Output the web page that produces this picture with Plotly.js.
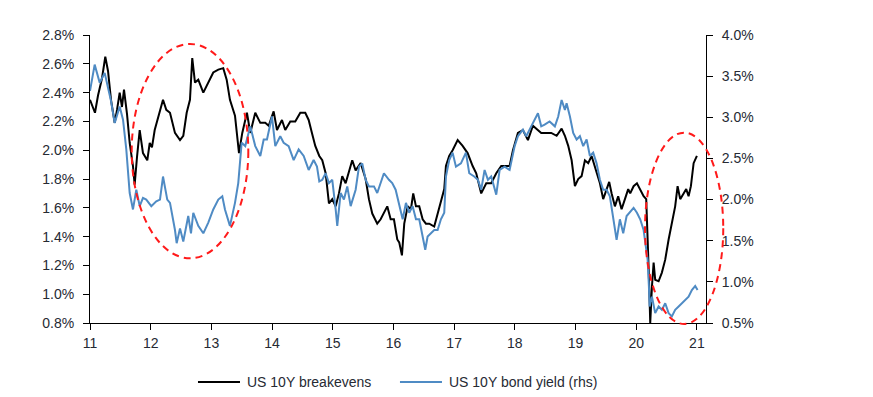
<!DOCTYPE html>
<html>
<head>
<meta charset="utf-8">
<script src="https://cdn.plot.ly/plotly-3.0.1.min.js"></script>
<style>
  html, body { margin: 0; padding: 0; background: #fff; }
  #chart { width: 873px; height: 397px; }
</style>
</head>
<body>
<div id="chart"></div>
<script>
// ---- Data (decimal year, e.g. 11.5 = mid-2011) ----
const breakevenYears = [
  11.000, 11.049, 11.082, 11.132, 11.198, 11.252, 11.297, 11.346, 11.407, 11.445,
  11.489, 11.527, 11.560, 11.610, 11.654, 11.708, 11.736, 11.774, 11.819, 11.873,
  11.944, 11.984, 12.021, 12.066, 12.148, 12.203, 12.257, 12.318, 12.400, 12.483,
  12.537, 12.593, 12.647, 12.685, 12.730, 12.784, 12.867, 12.949, 13.031, 13.114,
  13.196, 13.252, 13.306, 13.389, 13.455, 13.509, 13.554, 13.586, 13.641, 13.723,
  13.806, 13.888, 13.944, 14.026, 14.081, 14.163, 14.217, 14.300, 14.382, 14.465,
  14.547, 14.603, 14.657, 14.712, 14.778, 14.827, 14.883, 14.937, 14.992, 15.048,
  15.102, 15.156, 15.212, 15.267, 15.321, 15.377, 15.460, 15.542, 15.596, 15.651,
  15.733, 15.789, 15.843, 15.898, 15.954, 16.008, 16.063, 16.095, 16.140, 16.178,
  16.234, 16.288, 16.326, 16.371, 16.425, 16.481, 16.535, 16.590, 16.672, 16.755,
  16.837, 16.865, 16.919, 16.975, 17.058, 17.140, 17.222, 17.305, 17.364, 17.446,
  17.529, 17.611, 17.694, 17.776, 17.858, 17.914, 17.969, 18.051, 18.133, 18.216,
  18.298, 18.381, 18.435, 18.517, 18.600, 18.689, 18.771, 18.825, 18.880, 18.936,
  18.990, 19.044, 19.100, 19.155, 19.209, 19.265, 19.320, 19.402, 19.456, 19.512,
  19.555, 19.595, 19.649, 19.703, 19.759, 19.814, 19.868, 19.901, 19.957, 20.012,
  20.066, 20.122, 20.165, 20.188, 20.204, 20.221, 20.231, 20.259, 20.287, 20.313,
  20.369, 20.423, 20.478, 20.534, 20.588, 20.642, 20.682, 20.725, 20.781, 20.824,
  20.863, 20.901, 20.946, 21.000
];
const breakevens = [
  2.35, 2.30, 2.26, 2.38, 2.50, 2.65, 2.55, 2.35, 2.19, 2.28,
  2.40, 2.30, 2.42, 2.25, 2.05, 1.89, 1.76, 1.95, 2.14, 1.98,
  1.93, 2.05, 2.02, 2.14, 2.27, 2.35, 2.28, 2.26, 2.12, 2.07,
  2.10, 2.26, 2.35, 2.64, 2.47, 2.49, 2.40, 2.47, 2.54, 2.56,
  2.57, 2.49, 2.35, 2.24, 1.98, 2.12, 2.21, 2.26, 2.12, 2.26,
  2.19, 2.19, 2.17, 2.27, 2.14, 2.21, 2.14, 2.20, 2.20, 2.26,
  2.26, 2.21, 2.12, 2.03, 1.96, 1.93, 1.84, 1.63, 1.66, 1.61,
  1.70, 1.82, 1.77, 1.86, 1.93, 1.86, 1.91, 1.80, 1.66, 1.56,
  1.49, 1.52, 1.56, 1.61, 1.52, 1.52, 1.38, 1.36, 1.27, 1.49,
  1.61, 1.59, 1.70, 1.61, 1.61, 1.52, 1.49, 1.49, 1.47, 1.61,
  1.73, 1.89, 1.96, 2.00, 2.07, 2.03, 1.98, 1.89, 1.84, 1.70,
  1.77, 1.77, 1.84, 1.89, 1.89, 1.89, 2.00, 2.12, 2.14, 2.07,
  2.17, 2.14, 2.12, 2.12, 2.12, 2.10, 2.15, 2.10, 2.03, 1.93,
  1.75, 1.80, 1.82, 1.93, 1.91, 1.96, 1.89, 1.77, 1.66, 1.73,
  1.78, 1.70, 1.61, 1.68, 1.59, 1.66, 1.73, 1.70, 1.75, 1.77,
  1.73, 1.68, 1.66, 1.43, 1.19, 0.96, 0.80, 1.05, 1.22, 1.10,
  1.09, 1.15, 1.24, 1.38, 1.49, 1.61, 1.75, 1.66, 1.70, 1.73,
  1.68, 1.75, 1.91, 1.96
];

const yieldYears = [
  11.000, 11.077, 11.160, 11.242, 11.297, 11.346, 11.407, 11.489, 11.544, 11.598,
  11.654, 11.708, 11.763, 11.819, 11.873, 11.927, 12.010, 12.092, 12.153, 12.203,
  12.273, 12.318, 12.400, 12.428, 12.483, 12.537, 12.619, 12.664, 12.702, 12.784,
  12.867, 12.949, 13.031, 13.114, 13.180, 13.224, 13.306, 13.389, 13.443, 13.499,
  13.558, 13.641, 13.723, 13.806, 13.862, 13.916, 13.998, 14.053, 14.135, 14.191,
  14.273, 14.356, 14.438, 14.521, 14.603, 14.685, 14.740, 14.778, 14.827, 14.883,
  14.937, 14.992, 15.048, 15.074, 15.130, 15.184, 15.239, 15.295, 15.377, 15.432,
  15.486, 15.542, 15.596, 15.679, 15.733, 15.789, 15.843, 15.926, 15.980, 16.036,
  16.095, 16.152, 16.206, 16.260, 16.316, 16.371, 16.425, 16.481, 16.524, 16.563,
  16.618, 16.672, 16.728, 16.782, 16.837, 16.865, 16.919, 16.975, 17.030, 17.112,
  17.194, 17.249, 17.331, 17.392, 17.446, 17.502, 17.557, 17.611, 17.694, 17.750,
  17.832, 17.914, 17.997, 18.051, 18.133, 18.188, 18.270, 18.326, 18.381, 18.435,
  18.491, 18.573, 18.660, 18.715, 18.771, 18.825, 18.853, 18.908, 18.962, 19.018,
  19.072, 19.127, 19.183, 19.237, 19.291, 19.347, 19.402, 19.456, 19.512, 19.566,
  19.621, 19.677, 19.731, 19.786, 19.842, 19.901, 19.957, 20.012, 20.066, 20.122,
  20.148, 20.188, 20.209, 20.221, 20.259, 20.313, 20.369, 20.423, 20.478, 20.534,
  20.588, 20.642, 20.699, 20.753, 20.807, 20.863, 20.917, 20.972, 21.011
];
const bondYield = [
  3.32, 3.64, 3.42, 3.54, 3.36, 3.20, 2.93, 3.13, 2.97, 2.61,
  2.08, 1.88, 2.12, 1.92, 2.02, 2.00, 1.92, 1.98, 2.00, 2.28,
  2.00, 1.96, 1.63, 1.47, 1.65, 1.49, 1.80, 1.59, 1.84, 1.68,
  1.59, 1.72, 1.88, 2.00, 2.04, 1.88, 1.68, 1.96, 2.20, 2.69,
  2.65, 2.89, 2.65, 2.53, 2.73, 2.73, 3.01, 2.65, 2.77, 2.69,
  2.65, 2.48, 2.61, 2.53, 2.36, 2.48, 2.40, 2.22, 2.24, 2.32,
  2.20, 2.24, 1.88, 1.68, 2.08, 2.00, 2.16, 1.92, 2.12, 2.40,
  2.44, 2.24, 2.16, 2.16, 2.08, 2.20, 2.32, 2.24, 2.20, 2.12,
  1.92, 1.76, 1.96, 1.84, 1.92, 1.76, 1.76, 1.55, 1.39, 1.55,
  1.59, 1.63, 1.63, 1.76, 1.84, 2.28, 2.48, 2.57, 2.40, 2.44,
  2.57, 2.32, 2.28, 2.24, 2.12, 2.36, 2.24, 2.28, 2.06, 2.36,
  2.40, 2.36, 2.65, 2.77, 2.85, 2.77, 2.89, 2.97, 3.05, 2.89,
  2.91, 2.95, 2.89, 3.01, 3.21, 3.09, 3.17, 3.01, 2.81, 2.73,
  2.77, 2.65, 2.73, 2.53, 2.57, 2.44, 2.24, 2.12, 2.12, 2.04,
  1.76, 1.51, 1.76, 1.59, 1.80, 1.85, 1.90, 1.84, 1.76, 1.63,
  1.47, 1.27, 0.95, 0.70, 0.82, 0.62, 0.70, 0.66, 0.74, 0.62,
  0.58, 0.66, 0.70, 0.74, 0.78, 0.82, 0.90, 0.95, 0.90
];

const xTickVals = [11, 12, 13, 14, 15, 16, 17, 18, 19, 20, 21];
const xTickText = ["11", "12", "13", "14", "15", "16", "17", "18", "19", "20", "21"];
const seriesNames = ["US 10Y breakevens", "US 10Y bond yield (rhs)"];

// ---- Styles ----
const BLACK = "#000000";
const BLUE = "#4f8bc4";
const RED = "#ff1a1a";
const TXT = "#262a33";
const FONT = "Liberation Sans, Arial, sans-serif";

const traces = [
  {
    x: breakevenYears, y: breakevens, type: "scatter", mode: "lines",
    name: seriesNames[0], line: { color: BLACK, width: 2 }, yaxis: "y",
    hoverinfo: "skip"
  },
  {
    x: yieldYears, y: bondYield, type: "scatter", mode: "lines",
    name: seriesNames[1], line: { color: BLUE, width: 2 }, yaxis: "y2",
    hoverinfo: "skip"
  }
];

const axisCommon = {
  showgrid: false, zeroline: false, showline: true, linecolor: "#000", linewidth: 1,
  ticks: "outside", ticklen: 6, tickcolor: "#000", tickwidth: 1,
  tickfont: { family: FONT, size: 14, color: TXT }
};

// legend (custom, below plot) in paper coordinates
const legY = -0.205;
const shapes = [
  { type: "circle", xref: "paper", yref: "paper", x0: 0.0677, x1: 0.257, y0: 0.2247, y1: 0.9688,
    line: { color: RED, width: 2, dash: "7px,5px" } },
  { type: "circle", xref: "paper", yref: "paper", x0: 0.901, x1: 1.028, y0: -0.0035, y1: 0.661,
    line: { color: RED, width: 2, dash: "7px,5px" } },
  { type: "line", xref: "paper", yref: "paper", x0: 0.1753, x1: 0.2435, y0: legY, y1: legY,
    line: { color: BLACK, width: 2 } },
  { type: "line", xref: "paper", yref: "paper", x0: 0.5032, x1: 0.5714, y0: legY, y1: legY,
    line: { color: BLUE, width: 2 } }
];
const annotations = [
  { xref: "paper", yref: "paper", x: 0.2516, y: legY, xanchor: "left", yanchor: "middle",
    text: seriesNames[0], showarrow: false, font: { family: FONT, size: 14, color: TXT } },
  { xref: "paper", yref: "paper", x: 0.5795, y: legY, xanchor: "left", yanchor: "middle",
    text: seriesNames[1], showarrow: false, font: { family: FONT, size: 14, color: TXT } }
];

const layout = {
  width: 873, height: 397,
  margin: { l: 90, r: 167, t: 35, b: 74 },
  paper_bgcolor: "#fff", plot_bgcolor: "#fff",
  showlegend: false,
  font: { family: FONT, size: 14, color: TXT },
  xaxis: Object.assign({}, axisCommon, {
    range: [11, 21.15], tickmode: "array", tickvals: xTickVals, ticktext: xTickText,
    mirror: false, ticklabelstandoff: 1
  }),
  yaxis: Object.assign({}, axisCommon, {
    range: [0.8, 2.8], tickmode: "linear", tick0: 0.8, dtick: 0.2,
    tickformat: ".1f", ticksuffix: "%", ticklabelstandoff: 6
  }),
  yaxis2: Object.assign({}, axisCommon, {
    range: [0.5, 4.0], tickmode: "linear", tick0: 0.5, dtick: 0.5,
    tickformat: ".1f", ticksuffix: "%", overlaying: "y", side: "right", anchor: "x",
    ticklabelstandoff: 6
  }),
  shapes: shapes,
  annotations: annotations
};

Plotly.newPlot("chart", traces, layout, { staticPlot: true, displayModeBar: false });
</script>
</body>
</html>
